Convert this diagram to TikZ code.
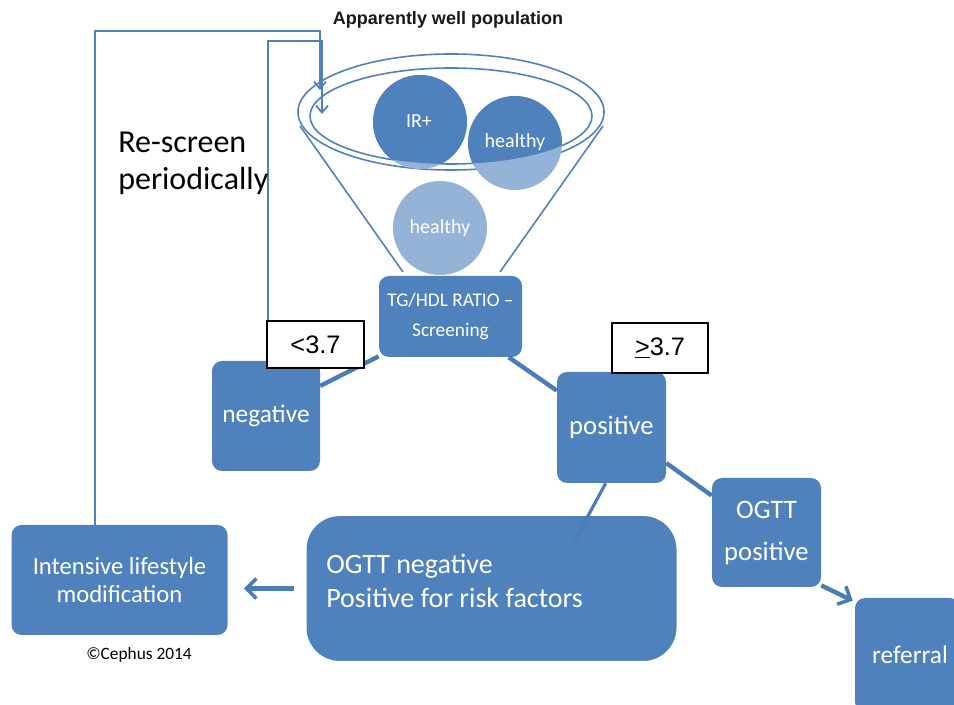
\documentclass[tikz,border=0pt]{standalone}
\usepackage{fontspec}
\setmainfont{Carlito}
\newfontfamily\arialf{Liberation Sans}
\usetikzlibrary{arrows.meta,calc}
\definecolor{bblue}{RGB}{79,129,189}
\definecolor{lblue}{RGB}{149,179,215}
\definecolor{lineb}{RGB}{74,124,184}
\begin{document}
\begin{tikzpicture}[x=0.75pt,y=-0.75pt,
  bbox/.style={fill=bblue, rounded corners=7.5pt, text=white, align=center, inner sep=0pt},
  valbox/.style={fill=white, draw=black, line width=0.8pt, inner sep=0pt, font=\arialf\fontsize{19}{22}\selectfont},
  conn/.style={draw=lineb, line width=3.3pt},
  loopl/.style={draw=bblue, line width=1.35pt},
  looparr/.style={-{Straight Barb[length=5.25pt,width=9pt,line width=1.35pt]}},
  bigarr/.style={-{Straight Barb[length=7.5pt,width=15pt,line width=2.7pt]}},
  circtxt/.style={text=white, font=\fontsize{15}{18}\selectfont, inner sep=0pt},
  rim/.style={draw=bblue, line width=1.2pt}
]
\useasboundingbox (0,0) rectangle (954,705);

% title
\node[font=\arialf\bfseries\fontsize{13.5}{16}\selectfont, text=black!90] (title) at (448,20) {Apparently well population};

% funnel
\draw[rim] (300,126) -- (403,272);
\draw[rim] (603,126) -- (500,272);
\draw[rim] (451,112) ellipse [x radius=153, y radius=58];
\draw[rim] (451,116) ellipse [x radius=141, y radius=48];

% circles
\fill[lblue] (420,122) circle [radius=47];
\fill[lblue] (515,143) circle [radius=47];
\begin{scope}
  \clip (451,116) ellipse [x radius=141, y radius=48];
  \fill[bblue] (420,122) circle [radius=47];
  \fill[bblue] (515,143) circle [radius=47];
\end{scope}
\fill[lblue] (440,228) circle [radius=47];
\node[circtxt] (c1) at (419,121) {IR+};
\node[circtxt] (c2) at (515,142) {healthy};
\node[circtxt] (c3) at (440,228) {healthy};

% loop-back lines
\coordinate (o1) at (95,31);
\coordinate (o2) at (320,31);
\coordinate (oa) at (320,90);
\coordinate (i1) at (268,41);
\coordinate (i2) at (322,41);
\coordinate (ia) at (322,114);

% boxes
\node[bbox, minimum width=107.25pt, minimum height=60.75pt, font=\fontsize{14.5}{22}\selectfont] (tg) at (450.5,316.5) {TG/HDL RATIO --\\Screening};
\node[bbox, minimum width=81pt, minimum height=82.5pt, font=\fontsize{19}{22}\selectfont] (neg) at (266,416) {negative};
\node[bbox, minimum width=81.75pt, minimum height=83.25pt, font=\fontsize{20}{24}\selectfont] (pos) at (611.5,427.5) {positive};
\node[bbox, minimum width=81.75pt, minimum height=81.75pt, font=\fontsize{20}{31.5}\selectfont] (ogpos) at (766.5,532.5) {OGTT\\positive};
\node[bbox, minimum width=78.75pt, minimum height=85.5pt, font=\fontsize{19}{22}\selectfont, text width=71pt, align=left] (ref) at (907.5,655) {\hspace*{9pt}referral};
\node[bbox, minimum width=162pt, minimum height=82.5pt, font=\fontsize{18.5}{21}\selectfont] (il) at (119.5,580) {Intensive lifestyle\\modification};
\node[bbox, draw=white, line width=2.25pt, rounded corners=26pt, minimum width=279.75pt, minimum height=111pt] (ogneg) at (491.5,588.5) {};
\node[anchor=west, text=white, align=left, inner sep=0pt, font=\fontsize{21}{25}\selectfont] (ognegtxt) at (326,581) {OGTT negative\\Positive for risk factors};

% connectors
\draw[conn] (tg.209) -- (neg.29);
\draw[conn] (tg.325) -- (pos.146);
\draw[conn] (pos.327) -- (ogpos.146);
\coordinate (pend) at (575,540);
\draw[conn, line width=2.4pt] (pos.264) -- (pend);
\draw[conn, bigarr] (ogpos.316) -- ($(ref.north west)+(-2,3)$);
\draw[conn, bigarr, shorten <=7pt, shorten >=12pt] (ogneg.west) -- (il.east |- ogneg.west);

% value boxes
\node[valbox, minimum width=72.75pt, minimum height=35.25pt] (lt) at (315.5,344.5) {<3.7};
\node[valbox, minimum width=72pt, minimum height=37.5pt] (ge) at (660,348) {\underline{>}3.7};

\draw[loopl, looparr] (il.north -| o1) -- (o1) -- (o2) -- (oa);
\draw[loopl, looparr] (lt.north -| i1) -- (i1) -- (i2) -- (ia);

% texts
\node[anchor=west, align=left, inner sep=0pt, font=\fontsize{24}{27.75}\selectfont] (rescreen) at (118,163) {Re-screen\\periodically};
\node[inner sep=0pt, font=\fontsize{13}{15}\selectfont] (copy) at (139,655) {©Cephus 2014};
\end{tikzpicture}
\end{document}
